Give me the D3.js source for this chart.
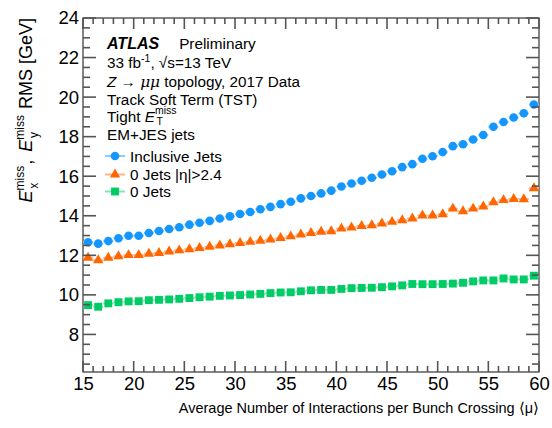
<!DOCTYPE html>
<html>
<head>
<meta charset="utf-8">
<script src="https://cdn.jsdelivr.net/npm/d3@7"></script>
<style>
  html, body { margin: 0; padding: 0; background: #fff; }
  svg { display: block; font-family: "Liberation Sans", Arial, Helvetica, sans-serif; }
</style>
</head>
<body>
<svg id="chart" width="552" height="428"></svg>
<script>
// <mu> bin centres
const mu = [15.5,16.5,17.5,18.5,19.5,20.5,21.5,22.5,23.5,24.5,25.5,26.5,27.5,28.5,29.5,
            30.5,31.5,32.5,33.5,34.5,35.5,36.5,37.5,38.5,39.5,40.5,41.5,42.5,43.5,44.5,
            45.5,46.5,47.5,48.5,49.5,50.5,51.5,52.5,53.5,54.5,55.5,56.5,57.5,58.5,59.5];

// RMS of Ex/Ey miss [GeV]
const inclusiveJets = [12.66,12.59,12.72,12.86,12.99,12.99,13.13,13.23,13.33,13.42,13.55,13.65,13.74,13.86,13.97,
                       14.09,14.19,14.33,14.45,14.59,14.71,14.88,15.00,15.13,15.27,15.48,15.63,15.77,15.92,16.09,
                       16.25,16.46,16.61,16.88,17.01,17.22,17.52,17.62,17.86,18.08,18.50,18.74,18.97,19.18,19.63];
const zeroJetsEta = [11.88,11.75,11.88,11.95,12.01,12.01,12.08,12.12,12.19,12.25,12.31,12.37,12.43,12.50,12.56,
                     12.62,12.68,12.74,12.80,12.88,12.96,13.05,13.13,13.19,13.22,13.35,13.41,13.48,13.52,13.61,
                     13.69,13.77,13.86,14.01,14.01,14.08,14.36,14.23,14.36,14.47,14.68,14.79,14.85,14.84,15.39];
const zeroJets = [9.48,9.40,9.57,9.63,9.67,9.68,9.73,9.75,9.77,9.80,9.84,9.88,9.91,9.95,9.97,
                  9.99,10.02,10.05,10.09,10.12,10.13,10.18,10.23,10.25,10.25,10.30,10.34,10.35,10.36,10.39,
                  10.43,10.48,10.55,10.54,10.54,10.55,10.57,10.61,10.68,10.73,10.73,10.83,10.78,10.78,10.97];

const xTicks = [15,20,25,30,35,40,45,50,55,60];
const yTicks = [8,10,12,14,16,18,20,22,24];
const seriesNames = ["Inclusive Jets", "0 Jets |\u03B7|>2.4", "0 Jets"];

const svg = d3.select("#chart");
const L = 83, R = 539, T = 18, B = 372;

const x = d3.scaleLinear().domain([15, 60]).range([L, R]);
const y = d3.scaleLinear().domain([6.1, 24]).range([B, T]);

const axisColor = "#333";

// frame
svg.append("rect").attr("x", L).attr("y", T).attr("width", R - L).attr("height", B - T)
  .attr("fill", "none").attr("stroke", axisColor).attr("stroke-width", 1.2);

// tick labels
const xl = d3.axisBottom(x).tickValues(xTicks).tickSize(0).tickPadding(5).tickFormat(d3.format("d"));
const gxl = svg.append("g").attr("transform", `translate(0,${B})`).call(xl);
gxl.selectAll("path.domain").remove();
gxl.selectAll("text").attr("font-size", 18.5).attr("fill", "#000")
  .attr("font-family", "\"Liberation Sans\", Arial, sans-serif");

const yl = d3.axisLeft(y).tickValues(yTicks).tickSize(0).tickPadding(4).tickFormat(d3.format("d"));
const gyl = svg.append("g").attr("transform", `translate(${L},0)`).call(yl);
gyl.selectAll("path.domain").remove();
gyl.selectAll("text").attr("font-size", 18.5).attr("fill", "#000")
  .attr("font-family", "\"Liberation Sans\", Arial, sans-serif");

// axis titles
svg.append("text")
  .attr("x", R).attr("y", 413).attr("text-anchor", "end")
  .attr("font-size", 14.5).attr("fill", "#000")
  .text("Average Number of Interactions per Bunch Crossing \u27E8\u03BC\u27E9");

const yt = svg.append("text")
  .attr("transform", `translate(32,${T}) rotate(-90)`)
  .attr("text-anchor", "end").attr("font-size", 18).attr("fill", "#000");
yt.append("tspan").attr("font-style", "italic").text("E");
yt.append("tspan").attr("font-size", 12).attr("dy", -8).text("miss");
yt.append("tspan").attr("font-size", 12).attr("dx", -23).attr("dy", 14).text("x");
yt.append("tspan").attr("dy", -6).attr("dx", 18).text(",");
yt.append("tspan").attr("font-style", "italic").attr("dx", 8).text("E");
yt.append("tspan").attr("font-size", 12).attr("dy", -8).text("miss");
yt.append("tspan").attr("font-size", 12).attr("dx", -23).attr("dy", 14).text("y");
yt.append("tspan").attr("dy", -6).attr("dx", 18).text(" RMS [GeV]");

// ---- data ----
const series = [
  { name: seriesNames[0], values: inclusiveJets, color: "#1496ff", bar: "#8ccaff", symbol: d3.symbolCircle, size: 58 },
  { name: seriesNames[1], values: zeroJetsEta, color: "#ff6600", bar: "#ffb487", symbol: d3.symbolTriangle, size: 46 },
  { name: seriesNames[2], values: zeroJets, color: "#00cc66", bar: "#84e6b2", symbol: d3.symbolSquare, size: 62 }
];

const plot = svg.append("g");
series.forEach(s => {
  const pts = mu.map((m, i) => ({ m, v: s.values[i] }));
  // horizontal bin-width bars
  plot.append("g").selectAll("line").data(pts).join("line")
    .attr("x1", d => x(d.m - 0.5)).attr("x2", d => x(d.m + 0.5))
    .attr("y1", d => y(d.v)).attr("y2", d => y(d.v))
    .attr("stroke", s.bar).attr("stroke-width", 2);
  plot.append("g").selectAll("path").data(pts).join("path")
    .attr("d", d3.symbol().type(s.symbol).size(s.size))
    .attr("transform", d => `translate(${x(d.m)},${y(d.v)})`)
    .attr("fill", s.color);
});

// ---- labels ----
const tx = 107;
const fs = 15.3;
const lab = svg.append("g").attr("fill", "#000").attr("font-size", fs);

const l1 = lab.append("text").attr("x", tx).attr("y", 49);
l1.append("tspan").attr("font-weight", "bold").attr("font-style", "italic").attr("font-size", 16).text("ATLAS");
l1.append("tspan").attr("dx", 20).text("Preliminary");

const l2 = lab.append("text").attr("x", tx).attr("y", 68);
l2.append("tspan").text("33 fb");
l2.append("tspan").attr("font-size", 10.5).attr("dy", -6).text("-1");
l2.append("tspan").attr("dy", 6).text(", \u221As=13 TeV");

const l3 = lab.append("text").attr("x", tx).attr("y", 86.5);
l3.append("tspan").attr("font-style", "italic").text("Z");
l3.append("tspan").text(" \u2192 ");
l3.append("tspan").attr("font-style", "italic").attr("font-family", "\"DejaVu Serif\", serif").text("\u03BC\u03BC");
l3.append("tspan").text(" topology, 2017 Data");

lab.append("text").attr("x", tx).attr("y", 104.5).text("Track Soft Term (TST)");

const l5 = lab.append("text").attr("x", tx).attr("y", 122);
l5.append("tspan").text("Tight ");
l5.append("tspan").attr("font-style", "italic").text("E");
l5.append("tspan").attr("font-size", 10.5).attr("dy", -8).text("miss");
l5.append("tspan").attr("font-size", 10.5).attr("dx", -20).attr("dy", 11).text("T");

lab.append("text").attr("x", tx).attr("y", 140).text("EM+JES jets");

// legend
const legY = [156, 174.5, 191.5];
series.forEach((s, i) => {
  const g = svg.append("g");
  g.append("line").attr("x1", 105).attr("x2", 125).attr("y1", legY[i]).attr("y2", legY[i])
    .attr("stroke", s.bar).attr("stroke-width", 2);
  g.append("path").attr("d", d3.symbol().type(s.symbol).size(s.size)())
    .attr("transform", `translate(115,${legY[i]})`).attr("fill", s.color);
  g.append("text").attr("x", 130).attr("y", legY[i] + 5.5).attr("font-size", fs)
    .attr("fill", "#000").text(s.name);
});

// ---- ticks on all four sides (ROOT style), drawn last ----
const xMinor = d3.range(15, 61, 1).filter(v => v % 5 !== 0);
const yMinor = d3.range(6.5, 24, 0.5).filter(v => v % 2 !== 0);

const tickSpecs = [];
xTicks.forEach(v => tickSpecs.push({ x1: x(v), x2: x(v), y1: B, y2: B - 11 }, { x1: x(v), x2: x(v), y1: T, y2: T + 11 }));
xMinor.forEach(v => tickSpecs.push({ x1: x(v), x2: x(v), y1: B, y2: B - 6 }, { x1: x(v), x2: x(v), y1: T, y2: T + 6 }));
yTicks.forEach(v => tickSpecs.push({ x1: L, x2: L + 13, y1: y(v), y2: y(v) }, { x1: R, x2: R - 13, y1: y(v), y2: y(v) }));
yMinor.forEach(v => tickSpecs.push({ x1: L, x2: L + 7, y1: y(v), y2: y(v) }, { x1: R, x2: R - 7, y1: y(v), y2: y(v) }));

svg.append("g").selectAll("line").data(tickSpecs).join("line")
  .attr("x1", d => d.x1).attr("x2", d => d.x2)
  .attr("y1", d => d.y1).attr("y2", d => d.y2)
  .style("stroke", "#555").style("stroke-width", "1.6px");
</script>
</body>
</html>
